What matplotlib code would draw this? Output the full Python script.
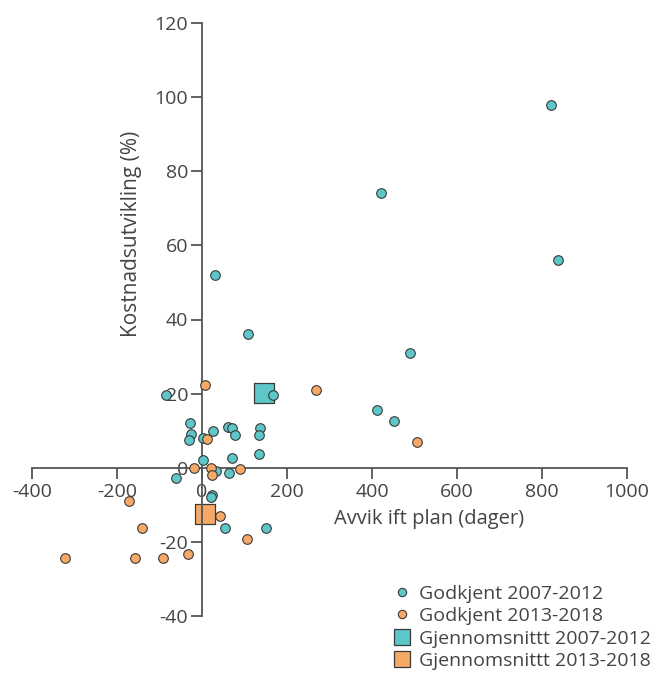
import matplotlib
matplotlib.use("Agg")
import matplotlib.pyplot as plt
from matplotlib.lines import Line2D

plt.rcParams['font.family'] = ['Open Sans', 'DejaVu Sans']
plt.rcParams['axes.unicode_minus'] = False

# Godkjent 2007-2012 (avvik dager, kostnadsutvikling %)
x_0712 = [820, 420, 838, 30, 108, 489, 167, -85, 411, 452, 137, 135, 135,
          -28, -27, -30, 3, 27, 62, 71, 78, 2, 71, 32, 64, -62, 23, 20, 53, 150]
y_0712 = [98, 74, 56, 52, 36, 31, 19.7, 19.5, 15.7, 12.7, 10.8, 8.9, 3.8,
          12.1, 9.2, 7.6, 8.0, 9.9, 11.1, 10.6, 8.8, 2.1, 2.6, -0.8, -1.4, -2.7, -7.3, -8, -16.3, -16.3]

# Godkjent 2013-2018
x_1318 = [8, 11, -18, 20, 24, 89, 268, 505, 42, -171, -141, 106, -322, -157, -91, -32]
y_1318 = [22.2, 7.7, -0.2, -0.2, -2.0, -0.3, 20.9, 7.0, -13, -9.1, -16.3, -19.3, -24.4, -24.4, -24.4, -23.2]

# Gjennomsnitt
mean_0712 = (146, 20.2)
mean_1318 = (7, -12.6)

teal = '#5cc6c9'
orange = '#f6a866'
edge = '#3a3a3a'
axis_col = '#555555'
text_col = '#444444'

fig = plt.figure(figsize=(6.5, 6.81), dpi=100)
ax = fig.add_axes([32/650, 1 - 616/681, (627 - 32)/650, (616 - 23)/681])

ax.scatter(x_0712, y_0712, s=48, color=teal, edgecolor=edge, linewidth=0.8, zorder=3)
ax.scatter(x_1318, y_1318, s=48, color=orange, edgecolor=edge, linewidth=0.8, zorder=3)
ax.scatter([mean_0712[0]], [mean_0712[1]], s=190, marker='s', color=teal, edgecolor=edge, linewidth=0.9, zorder=2)
ax.scatter([mean_1318[0]], [mean_1318[1]], s=190, marker='s', color=orange, edgecolor=edge, linewidth=0.9, zorder=2)

ax.set_xlim(-400, 1000)
ax.set_ylim(-40, 120)
ax.set_xticks(range(-400, 1001, 200))
ax.set_yticks(range(-40, 121, 20))

ax.spines['left'].set_position(('data', 0))
ax.spines['bottom'].set_position(('data', 0))
ax.spines['top'].set_visible(False)
ax.spines['right'].set_visible(False)
for s in ['left', 'bottom']:
    ax.spines[s].set_color(axis_col)
    ax.spines[s].set_linewidth(1.3)
ax.tick_params(direction='out', length=8, width=1.3, color=axis_col,
               labelcolor=text_col, labelsize=14)
ax.tick_params(axis='x', pad=3)
ax.tick_params(axis='y', pad=2)
ax.patch.set_alpha(0)

fig.text(429/650, 1 - 519/681, 'Avvik ift plan (dager)', ha='center', va='center',
         fontsize=14.5, color=text_col)
fig.text(131/650, 1 - 234/681, 'Kostnadsutvikling (%)', ha='center', va='center',
         rotation=90, fontsize=15, color=text_col)

handles = [
    Line2D([], [], marker='o', linestyle='', markersize=6, markerfacecolor=teal, markeredgecolor=edge, markeredgewidth=0.8),
    Line2D([], [], marker='o', linestyle='', markersize=6, markerfacecolor=orange, markeredgecolor=edge, markeredgewidth=0.8),
    Line2D([], [], marker='s', linestyle='', markersize=12, markerfacecolor=teal, markeredgecolor=edge, markeredgewidth=0.9),
    Line2D([], [], marker='s', linestyle='', markersize=12, markerfacecolor=orange, markeredgecolor=edge, markeredgewidth=0.9),
]
labels = ['Godkjent 2007-2012', 'Godkjent 2013-2018', 'Gjennomsnittt 2007-2012', 'Gjennomsnittt 2013-2018']
fig.legend(handles, labels, loc='upper left', bbox_to_anchor=(392/650, 1 - 585/681),
           frameon=False, fontsize=14, labelcolor=text_col, handlelength=1.0,
           handletextpad=0.4, labelspacing=0.22, borderaxespad=0, borderpad=0)

fig.savefig('out.png', dpi=100)
